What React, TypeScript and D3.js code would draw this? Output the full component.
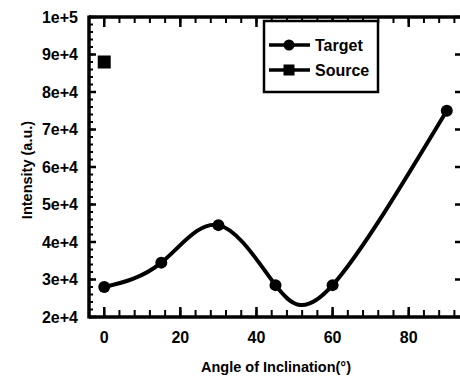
import React from "react";
import * as d3 from "d3";

// Intensity vs. angle of inclination
const targetAngles = [0, 15, 30, 45, 60, 90];
const targetIntensity = [28000, 34500, 44500, 28500, 28500, 75000];
const sourceAngles = [0];
const sourceIntensity = [88000];

const xTickValues = [0, 20, 40, 60, 80];
const yTickValues = [20000, 30000, 40000, 50000, 60000, 70000, 80000, 90000, 100000];
const yTickLabels = ["2e+4", "3e+4", "4e+4", "5e+4", "6e+4", "7e+4", "8e+4", "9e+4", "1e+5"];
const seriesNames = ["Target", "Source"];

const W = 460;
const H = 379;
const left = 89;
const right = 462;
const top = 17;
const bottom = 317;

const FONT = "'Liberation Sans', Arial, Helvetica, sans-serif";

export default function App() {
  const x = d3.scaleLinear().domain([-4, 94]).range([left, right]);
  const y = d3.scaleLinear().domain([20000, 100000]).range([bottom, top]);

  const pts = targetAngles.map((a, i) => [a, targetIntensity[i]] as [number, number]);
  const line = d3
    .line<[number, number]>()
    .x((d) => x(d[0]))
    .y((d) => y(d[1]))
    .curve(d3.curveNatural);

  const xMinor = d3.range(-4, 95, 4);
  const yMinor = d3.range(20000, 100001, 2000);

  return (
    <svg
      width={W}
      height={H}
      style={{ position: "absolute", left: 0, top: 0, background: "#fff" }}
      fontFamily={FONT}
      fontWeight="bold"
    >
      {/* minor ticks */}
      <g stroke="#000" strokeWidth={2}>
        {xMinor.map((v) => (
          <g key={"xm" + v}>
            <line x1={x(v)} x2={x(v)} y1={bottom} y2={bottom - 7} />
            <line x1={x(v)} x2={x(v)} y1={top} y2={top + 6} />
          </g>
        ))}
        {yMinor.map((v) => (
          <g key={"ym" + v}>
            <line x1={left} x2={left + 4} y1={y(v)} y2={y(v)} />
          </g>
        ))}
      </g>
      {/* major ticks */}
      <g stroke="#000" strokeWidth={2.5}>
        {xTickValues.map((v) => (
          <g key={"xM" + v}>
            <line x1={x(v)} x2={x(v)} y1={bottom} y2={bottom - 10} />
            <line x1={x(v)} x2={x(v)} y1={top} y2={top + 10} />
          </g>
        ))}
        {yTickValues.map((v) => (
          <g key={"yM" + v}>
            <line x1={left} x2={left + 7} y1={y(v)} y2={y(v)} />
            <line x1={right} x2={right - 7} y1={y(v)} y2={y(v)} />
          </g>
        ))}
      </g>
      {/* frame */}
      <g stroke="#000" strokeWidth={3.5} fill="none">
        <line x1={left} x2={right} y1={bottom} y2={bottom} />
        <line x1={left} x2={right} y1={top} y2={top} />
        <line x1={left} x2={left} y1={top - 1.5} y2={bottom + 1.5} />
        <line x1={right} x2={right} y1={top} y2={bottom} />
      </g>

      {/* tick labels */}
      <g fontSize={16} textAnchor="middle">
        {xTickValues.map((v) => (
          <text key={"xl" + v} x={x(v)} y={343}>
            {v}
          </text>
        ))}
      </g>
      <g fontSize={16} textAnchor="end">
        {yTickValues.map((v, i) => (
          <text key={"yl" + v} x={78} y={y(v) + 5.5}>
            {yTickLabels[i]}
          </text>
        ))}
      </g>

      {/* axis titles */}
      <text x={276} y={372} fontSize={14.5} textAnchor="middle">
        Angle of Inclination(°)
      </text>
      <text
        transform={`translate(32, 170) rotate(-90)`}
        fontSize={14.5}
        textAnchor="middle"
      >
        Intensity (a.u.)
      </text>

      {/* Target series */}
      <path d={line(pts) ?? ""} fill="none" stroke="#000" strokeWidth={4} strokeLinejoin="round" />
      {pts.map((d, i) => (
        <circle key={"t" + i} cx={x(d[0])} cy={y(d[1])} r={6} fill="#000" />
      ))}

      {/* Source series */}
      {sourceAngles.map((a, i) => (
        <rect
          key={"s" + i}
          x={x(a) - 6.5}
          y={y(sourceIntensity[i]) - 6.5}
          width={13}
          height={13}
          fill="#000"
        />
      ))}

      {/* legend */}
      <rect x={264} y={21} width={114} height={71} fill="#fff" stroke="#000" strokeWidth={2.5} />
      <g stroke="#000" strokeWidth={3.5}>
        <line x1={269} x2={310} y1={45} y2={45} />
        <line x1={269} x2={310} y1={70} y2={70} />
      </g>
      <circle cx={289} cy={45} r={5.5} fill="#000" />
      <rect x={283.5} y={64.5} width={11} height={11} fill="#000" />
      <g fontSize={16}>
        <text x={315} y={51}>{seriesNames[0]}</text>
        <text x={315} y={76}>{seriesNames[1]}</text>
      </g>
    </svg>
  );
}
